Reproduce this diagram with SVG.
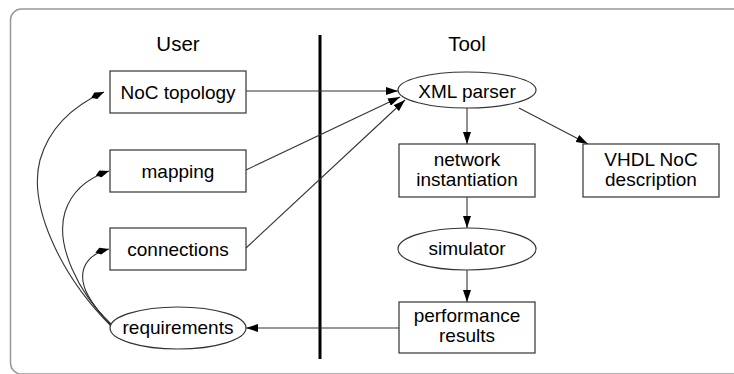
<svg xmlns="http://www.w3.org/2000/svg" width="734" height="374" viewBox="0 0 734 374">
<style>
.t{font-family:"Liberation Sans",Arial,sans-serif;font-size:19px;fill:#000;text-anchor:middle}
.h{font-size:20.5px}
.n{fill:#fff;stroke:#333;stroke-width:1.2}
.e{fill:none;stroke:#333;stroke-width:1.1}
</style>
<defs>
<marker id="a" viewBox="0 0 12 8" refX="12" refY="4" markerWidth="12" markerHeight="8" markerUnits="userSpaceOnUse" orient="auto">
<path d="M0,0 L12,4 L0,8 Z" fill="#000"/>
</marker>
<marker id="d" viewBox="0 0 14 8" refX="14" refY="4" markerWidth="14" markerHeight="8" markerUnits="userSpaceOnUse" orient="auto">
<path d="M0,4 L5,0.5 L14,4 L5,7.5 Z" fill="#000"/>
</marker>
</defs>
<rect x="10.5" y="9" width="800" height="365" rx="11" fill="none" stroke="#999" stroke-width="1.5"/>
<line x1="320" y1="35" x2="320" y2="359" stroke="#000" stroke-width="3"/>
<text class="t h" x="178" y="51">User</text>
<text class="t h" x="467" y="51">Tool</text>
<g id="edges">
<path class="e" d="M246,91 L398,91" marker-end="url(#a)"/>
<path class="e" d="M246,170 L400,97" marker-end="url(#a)"/>
<path class="e" d="M246,248 L405,100" marker-end="url(#a)"/>
<path class="e" d="M467,108 L467,144" marker-end="url(#a)"/>
<path class="e" d="M519,108 L588,144" marker-end="url(#a)"/>
<path class="e" d="M467,197 L467,228" marker-end="url(#a)"/>
<path class="e" d="M467,270 L467,302" marker-end="url(#a)"/>
<path class="e" d="M399,328 L246,328" marker-end="url(#a)"/>
<path class="e" d="M111,326 C60,275 28,205 40,160 C50,125 75,105 104,92" marker-end="url(#d)"/>
<path class="e" d="M111,325 C78,292 55,245 65,212 C72,190 88,178 109,171" marker-end="url(#d)"/>
<path class="e" d="M111,324 C92,306 78,285 84,268 C88,257 97,252 109,249" marker-end="url(#d)"/>
</g>
<g id="noc_topology"><rect class="n" x="110" y="71" width="136" height="42"/><text class="t" x="178" y="98.5">NoC topology</text></g>
<g id="mapping"><rect class="n" x="110" y="150" width="136" height="42"/><text class="t" x="178" y="177.5">mapping</text></g>
<g id="connections"><rect class="n" x="110" y="228" width="136" height="42"/><text class="t" x="178" y="255.5">connections</text></g>
<g id="requirements"><ellipse class="n" cx="178" cy="328" rx="68" ry="21"/><text class="t" x="178" y="334">requirements</text></g>
<g id="xml_parser"><ellipse class="n" cx="467" cy="90" rx="69" ry="18"/><text class="t" x="467" y="98">XML parser</text></g>
<g id="network_instantiation"><rect class="n" x="399" y="144" width="136" height="53"/><text class="t" x="467" y="166">network</text><text class="t" x="467" y="186">instantiation</text></g>
<g id="vhdl"><rect class="n" x="583" y="144" width="136" height="53"/><text class="t" x="651" y="166">VHDL NoC</text><text class="t" x="651" y="186">description</text></g>
<g id="simulator"><ellipse class="n" cx="467" cy="249" rx="69" ry="21"/><text class="t" x="467" y="255">simulator</text></g>
<g id="performance_results"><rect class="n" x="399" y="302" width="136" height="51"/><text class="t" x="467" y="322">performance</text><text class="t" x="467" y="342">results</text></g>
</svg>
